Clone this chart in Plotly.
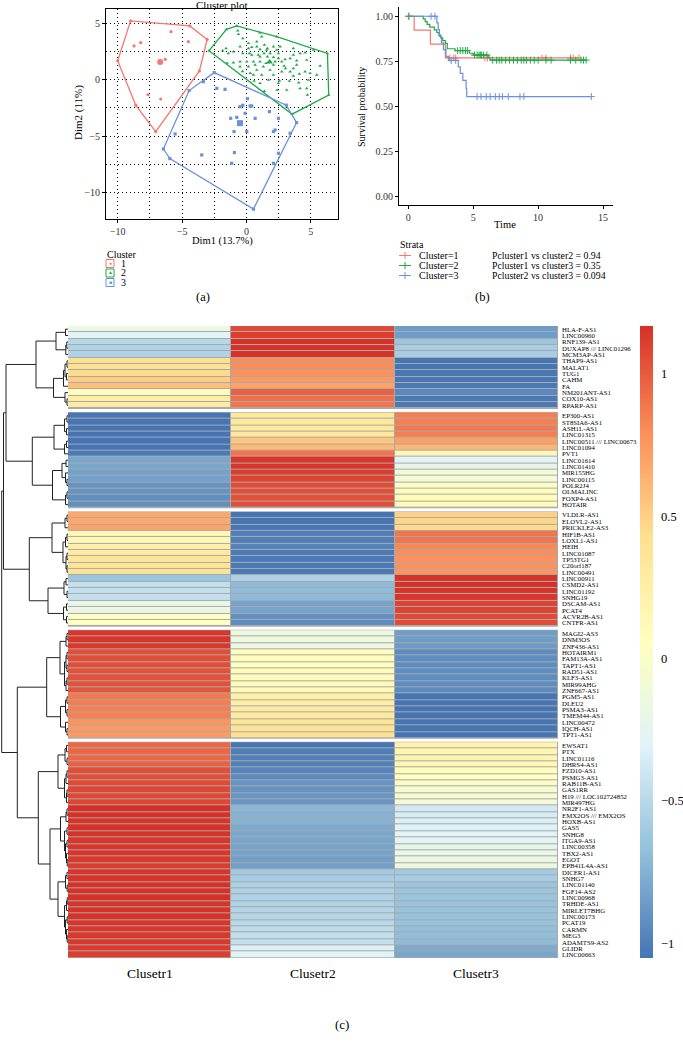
import numpy as np
import plotly.graph_objects as go

W, H = 683, 1045
FONT = "Liberation Serif"

# ---------------- (a) Cluster plot data ----------------
CL_COLORS = ["#F8766D", "#1DAA45", "#6A92DA"]
c1_x = [-9.0, -4.4, -3.05, -3.65, -7.05, -8.6, -10.0, -5.86, -8.73, -8.21, -4.51, -6.3, -7.65, -6.66]
c1_y = [5.25, 4.8, 3.6, 0.8, -4.6, -2.25, 1.7, 4.29, 3.02, 3.31, 3.4, 1.83, -1.32, -1.7]
c2_x = [-2.9, -1.55, -0.75, 1.05, 6.3, 6.4, 3.55,
        -0.67, -0.62, -0.28, -1.58, -1.84, -1.01, -1.4, -0.49, 0.16, 0.24, 0.42, 0.81, 1.06, 1.4,
        1.58, 2.1, 2.36, 2.62, 1.84, 2.49, 1.37, 0.93, 1.63, 2.1, 2.49, 3.01, 2.75, 2.23, 1.84,
        1.06, 0.55, 0.03, -0.49, -1.01, -0.49, 0.16, 0.68, 1.32, 2.1, 2.93, 3.03, 3.65, 3.91,
        4.69, 5.73, 4.56, 4.95, 4.12, 3.4, 2.75, 2.1, 1.19, 0.55, -0.3, 0.3, 2.57, 3.34, 4.07,
        4.69, 4.74, 3.14, 2.39, 1.19, 2.36, 3.65, 4.17, 0.81, 0.16, 3.65, 5.21, 4.56, 4.82,
        1.71, 1.06, 0.6, 0.81, 5.47, 1.4, 3.4, 3.91, 0.42, 1.84, 1.53, 3.65, 2.49, 4.17, 1.63,
        -0.28, 1.06, -1.5]
c2_y = [2.6, 4.5, 4.8, 4.2, 2.35, -1.35, -3.05,
        4.38, 4.06, 3.7, 2.81, 2.6, 2.51, 2.36, 2.96, 2.81, 2.36, 2.9, 2.96, 2.72, 3.11,
        2.66, 2.96, 2.66, 2.96, 2.36, 2.36, 2.36, 2.22, 2.07, 2.01, 1.92, 1.83, 1.62, 1.62, 1.62,
        1.62, 1.62, 1.62, 1.62, 1.53, 1.18, 1.18, 1.33, 1.18, 1.33, 1.24, 1.03, 1.03, 1.33,
        1.77, 1.24, 0.73, 0.59, 0.53, 0.73, 0.73, 0.44, 0.44, 0.44, 0.75, 0.6, -0.07, -0.1, -0.24,
        -0.75, -1.34, -0.9, -0.9, 3.85, 3.85, 2.81, 2.36, 3.4, 3.26, 2.22, 2.66, 2.42, -0.01,
        -0.01, -0.3, -0.1, 0.88, 0.44, -1.0, 1.92, 1.71, 2.22, 0.88, 1.48, 0.35, -0.3, -0.75, 2.81,
        2.36, 2.07, 1.5]
c3_x = [-2.5, -4.45, -6.45, -5.95, 0.55, 3.9, 3.1,
        -2.3, -1.66, -3.34, 0.08, -0.49, -0.28, 0.42, -1.22, -0.75, 0.68, 1.79, 2.49, 2.23,
        2.1, 0.03, -0.96, -3.47, -5.54, -0.93, -1.14, 2.1, 2.49, 3.4, 0.29, -0.1]
c3_y = [0.65, -0.95, -6.15, -7.0, -11.5, -3.8, -2.25,
        -0.75, -0.84, -0.16, -1.67, -2.38, -2.26, -2.32, -3.42, -3.33, -3.42, -2.82, -3.42, -4.46,
        -4.6, -4.6, -4.6, -6.68, -4.81, -6.47, -7.42, -7.42, -6.53, -4.75, -2.32, -2.97]
centers_x = [-6.7, 1.8, -0.5]
centers_y = [1.6, 1.6, -3.85]
cluster_names = ["1", "2", "3"]

# ---------------- (b) Survival data ----------------
SV_COLORS = ["#F8766D", "#1DAA45", "#6A92DA"]
red_t = [0, 0.45, 1.7, 2.85, 13.15]
red_s = [1, 0.923, 0.846, 0.769, 0.769]
red_c = [0.0, 3.2, 3.5, 3.65, 5.9, 6.1, 10.3, 10.6, 12.5, 12.7, 13.15]
green_t = [0, 1.15, 1.3, 1.45, 1.65, 2.0, 2.2, 2.35, 2.5, 2.65, 2.85, 3.0, 3.6, 4.7, 5.0, 6.2, 6.3, 13.7]
green_s = [1, 0.985, 0.97, 0.955, 0.94, 0.925, 0.91, 0.895, 0.88, 0.865, 0.85, 0.82, 0.81, 0.795,
           0.785, 0.77, 0.757, 0.757]
green_c = [0.05, 3.8, 4.0, 4.2, 4.4, 4.55, 5.1, 5.3, 5.45, 5.55, 5.65, 5.8, 6.05, 6.5, 6.8, 7.0,
           7.2, 7.5, 7.8, 8.1, 8.4, 8.7, 8.9, 9.1, 9.4, 9.7, 10.0, 10.6, 11.0, 12.5, 12.9, 13.3,
           13.5, 13.7]
blue_t = [0, 2.2, 2.3, 2.4, 2.55, 2.7, 2.9, 3.1, 3.85, 4.0, 4.2, 4.45, 4.5, 14.1]
blue_s = [1, 0.963, 0.926, 0.889, 0.852, 0.815, 0.778, 0.755, 0.72, 0.684, 0.645, 0.6, 0.555, 0.555]
blue_c = [1.75, 2.05, 3.3, 3.65, 5.3, 5.6, 6.0, 6.3, 6.7, 7.0, 7.25, 7.7, 8.6, 8.9, 14.1]
strata = ["Cluster=1", "Cluster=2", "Cluster=3"]
pvals = ["Pcluster1 vs cluster2 = 0.94", "Pcluster1 vs cluster3 = 0.35", "Pcluster2 vs cluster3 = 0.094"]

# ---------------- (c) Heatmap data ----------------
genes = [
    "HLA-F-AS1", "LINC00960", "RNF139-AS1", "DUXAP8 /// LINC01296", "MCM3AP-AS1", "THAP9-AS1",
    "MALAT1", "TUG1", "CAHM", "FA", "NM201ANT-AS1", "COX10-AS1", "RPARP-AS1",
    "EP300-AS1", "ST8SIA6-AS1", "ASH1L-AS1", "LINC01315", "LINC00511 /// LINC00673", "LINC01094",
    "PVT1", "LINC01614", "LINC01410", "MIR155HG", "LINC00115", "POLR2J4", "OLMALINC", "FOXP4-AS1",
    "HOTAIR",
    "VLDLR-AS1", "ELOVL2-AS1", "PRICKLE2-AS3", "HIF1B-AS1", "LOXL1-AS1", "HEIH", "LINC01087",
    "TP53TG1", "C20orf187", "LINC00491", "LINC00911", "CSMD2-AS1", "LINC01192", "SNHG19",
    "DSCAM-AS1", "PCAT4", "ACVR2B-AS1", "CNTFR-AS1",
    "MAGI2-AS3", "DNM3OS", "ZNF436-AS1", "HOTAIRM1", "FAM13A-AS1", "TAPT1-AS1", "RAD51-AS1",
    "KLF3-AS1", "MIR99AHG", "ZNF667-AS1", "PGM5-AS1", "DLEU2", "PSMA3-AS1", "TMEM44-AS1",
    "LINC00472", "IQCH-AS1", "TPT1-AS1",
    "EWSAT1", "PTX", "LINC01116", "DHRS4-AS1", "FZD10-AS1", "PSMG3-AS1", "RAB11B-AS1", "GAS1RR",
    "H19 /// LOC102724852", "MIR497HG", "NR2F1-AS1", "EMX2OS /// EMX2OS", "HOXB-AS1", "GAS5",
    "SNHG8", "ITGA9-AS1", "LINC00358", "TBX2-AS1", "EGOT", "EPB41L4A-AS1", "DICER1-AS1", "SNHG7",
    "LINC01140", "FGF14-AS2", "LINC00968", "TRHDE-AS1", "MIRLET7BHG", "LINC00173", "PCAT19",
    "CARMN", "MEG3", "ADAMTS9-AS2", "GLIDR", "LINC00663"]
group_sizes = [13, 15, 18, 17, 34]
col_names = ["Clusetr1", "Clusetr2", "Clusetr3"]
clus1 = [-0.17, -0.29, -0.5, -0.54, -0.54, 0.42, 0.42, 0.45, 0.52, 0.58, 0.1, 0.26, 0.3,
         -1.05, -1.05, -1.05, -1.05, -1.05, -1.05, -1.02, -0.8, -0.8, -0.83, -0.83, -0.9, -0.9, -0.92,
         -0.92,
         0.68, 0.68, 0.7, 0.14, 0.16, 0.25, 0.3, 0.36, 0.38, 0.4, -0.64, -0.45, -0.45, -0.45, -0.2,
         -0.18, 0.03, 0.05,
         1.15, 1.15, 1.14, 1.05, 1.05, 1.05, 1.04, 1.04, 1.04, 1.03, 0.88, 0.87, 0.86, 0.85, 0.77,
         0.75, 0.74,
         0.95, 0.95, 0.95, 0.98, 1.05, 1.05, 1.07, 1.08, 1.08, 1.08, 1.17, 1.17, 1.16, 1.17, 1.16,
         1.15, 1.15, 1.15, 1.14, 1.12, 1.15, 1.16, 1.17, 1.17, 1.17, 1.16, 1.16, 1.16, 1.15, 1.15,
         1.14, 1.14, 1.13, 1.12]
clus2 = [1.07, 1.12, 1.17, 1.17, 1.16, 0.8, 0.8, 0.78, 0.74, 0.7, 0.98, 0.92, 0.9,
         0.33, 0.33, 0.34, 0.35, 0.55, 0.6, 0.9, 1.15, 1.15, 1.12, 1.1, 1.06, 1.05, 1.04, 1.05,
         -1.05, -1.05, -1.04, -1.0, -1.0, -0.98, -1.02, -1.02, -1.03, -1.03, -0.55, -0.7, -0.7, -0.7,
         -0.82, -0.82, -0.92, -0.94,
         -0.15, -0.15, -0.18, 0.08, 0.08, 0.08, 0.1, 0.1, 0.12, 0.12, 0.25, 0.27, 0.3, 0.32, 0.38,
         0.4, 0.43,
         -1.05, -1.0, -0.99, -0.99, -0.97, -0.95, -0.9, -0.9, -0.88, -0.88, -0.72, -0.74, -0.74,
         -0.78, -0.8, -0.8, -0.82, -0.82, -0.84, -0.84, -0.6, -0.58, -0.55, -0.55, -0.54, -0.54,
         -0.52, -0.52, -0.5, -0.48, -0.46, -0.45, -0.33, -0.3]
clus3 = [-0.85, -0.85, -0.64, -0.58, -0.58, -1.05, -1.05, -1.04, -1.04, -1.03, -0.95, -1.02, -1.02,
         0.86, 0.86, 0.88, 0.86, 0.72, 0.62, 0.15, -0.3, -0.22, -0.1, -0.08, 0.03, 0.08, 0.1, 0.1,
         0.5, 0.48, 0.45, 0.9, 0.9, 0.82, 0.8, 0.78, 0.78, 0.76, 1.16, 1.17, 1.16, 1.15, 1.1, 1.1,
         1.07, 1.06,
         -0.85, -0.85, -0.86, -0.93, -0.93, -0.93, -0.93, -0.93, -0.93, -0.94, -1.05, -1.05, -1.05,
         -1.05, -1.05, -1.05, -1.05,
         0.2, 0.18, 0.18, 0.16, 0.08, 0.06, 0.0, -0.03, -0.06, -0.08, -0.38, -0.36, -0.34, -0.32,
         -0.3, -0.28, -0.22, -0.2, -0.18, -0.16, -0.6, -0.58, -0.64, -0.64, -0.64, -0.65, -0.65,
         -0.66, -0.66, -0.68, -0.68, -0.7, -0.78, -0.8]
Z_MIN, Z_MAX = -1.05, 1.17
cbar_ticks = [-1, -0.5, 0, 0.5, 1]
cbar_labels = ["\u22121", "\u22120.5", "0", "0.5", "1"]

# row dendrogram: [left, right, height]; leaves are row indices
G1 = [[[0, 1, 2.5], [[2, 3, 1.2], 4, 2.2], 12],
      [[[[5, 6, 1], [7, 8, 1.5], 3], 9, 4.5], [10, [11, 12, 1], 3], 14.5], 32]
G2 = [[[[13, 14, 1], [15, 16, 1.5], 3.5], [[17, 18, 1.5], 19, 3.5], 14],
      [[[20, 21, 2], [22, [23, 24, 1], 2.5], 6], [[25, 26, 1], 27, 2.5], 15.5], 35.7]
G3 = [[[[28, 29, 1], 30, 3], [[[31, 32, 1], 33, 2.5], [[34, 35, 1], [36, 37, 1], 2], 5], 16],
      [[[38, 39, 2], [40, 41, 1], 4], [[42, 43, 1.5], [44, 45, 1.5], 4.5], 20], 38.7]
G4 = [[[[46, 47, 1], 48, 2], [[[49, 50, 1], [51, 52, 1], 2], [[53, 54, 1], 55, 2], 3.5], 8],
      [[[56, 57, 1], [58, 59, 1], 2.5], [60, [61, 62, 1], 2.5], 7.5], 21.3]
G5 = [[[[63, 64, 1.5], [65, 66, 1], 3], [[[67, 68, 1], 69, 2], [[70, 71, 1], 72, 1.5], 3.5], 10],
      [[[[73, 74, 1], 75, 2], [[76, 77, 1], [[78, 79, 1], [80, [81, 82, 0.8], 1.5], 2.5], 3.5], 7.5],
       [[[83, 84, 1], [85, 86, 0.8], 2.5],
        [[[87, 88, 0.8], 89, 1.5], [[90, 91, 0.8], [92, [93, 94, 0.8], 1.5], 2.5], 3.5], 10], 18],
      29.7]
DENDRO = [[[G1, G2, 62], G3, 64.5], [G4, G5, 50.7], 66.3]


def X(px):
    return px / W


def Y(py):
    return 1 - py / H


def hull(xs, ys):
    pts = sorted(set(zip(xs, ys)))

    def cross(o, a, b):
        return (a[0] - o[0]) * (b[1] - o[1]) - (a[1] - o[1]) * (b[0] - o[0])
    lower, upper = [], []
    for p in pts:
        while len(lower) >= 2 and cross(lower[-2], lower[-1], p) <= 0:
            lower.pop()
        lower.append(p)
    for p in reversed(pts):
        while len(upper) >= 2 and cross(upper[-2], upper[-1], p) <= 0:
            upper.pop()
        upper.append(p)
    h = lower[:-1] + upper[:-1]
    h.append(h[0])
    return [p[0] for p in h], [p[1] for p in h]


fig = go.Figure()

# ---------- (a) ----------
syms = ["circle", "triangle-up", "square"]
for k, (xs, ys) in enumerate([(c1_x, c1_y), (c2_x, c2_y), (c3_x, c3_y)]):
    hx, hy = hull(xs, ys)
    fig.add_trace(go.Scatter(x=hx, y=hy, mode="lines", line=dict(color=CL_COLORS[k], width=1.3),
                             xaxis="x", yaxis="y", showlegend=False, hoverinfo="skip"))
    fig.add_trace(go.Scatter(x=xs, y=ys, mode="markers",
                             marker=dict(symbol=syms[k], size=3.2, color=CL_COLORS[k]),
                             xaxis="x", yaxis="y", showlegend=False))
    fig.add_trace(go.Scatter(x=[centers_x[k]], y=[centers_y[k]], mode="markers",
                             marker=dict(symbol=syms[k], size=6, color=CL_COLORS[k]),
                             xaxis="x", yaxis="y", showlegend=False))

# ---------- (b) ----------
for k, (t, s, c) in enumerate([(red_t, red_s, red_c), (green_t, green_s, green_c),
                               (blue_t, blue_s, blue_c)]):
    fig.add_trace(go.Scatter(x=t, y=s, mode="lines", line=dict(color=SV_COLORS[k], width=1.2, shape="hv"),
                             xaxis="x2", yaxis="y2", showlegend=False))
    ta = np.array(t)
    cy = [s[int(np.searchsorted(ta, v, side="right")) - 1] for v in c]
    fig.add_trace(go.Scatter(x=c, y=cy, mode="markers",
                             marker=dict(symbol="cross-thin", size=5, line=dict(color=SV_COLORS[k], width=1)),
                             xaxis="x2", yaxis="y2", showlegend=False))

# ---------- (c) heatmap ----------
HM_TOP, HM_BOT = 326, 958
GAP = 0.65
pos = []
for g, n in enumerate(group_sizes):
    start = len(pos)
    for i in range(n):
        pos.append(start + i + g * GAP)
colorscale = [[0, "#4575B4"], [1 / 6, "#91BFDB"], [2 / 6, "#E0F3F8"], [3 / 6, "#FFFFBF"],
              [4 / 6, "#FEE090"], [5 / 6, "#FC8D59"], [1, "#D73027"]]
shapes = []
start = 0
for g, n in enumerate(group_sizes):
    idx = list(range(start, start + n))
    z = [[clus1[i], clus2[i], clus3[i]] for i in idx]
    fig.add_trace(go.Heatmap(
        z=z, x=[0, 1, 2], y=[pos[i] for i in idx], zmin=Z_MIN, zmax=Z_MAX, colorscale=colorscale,
        xgap=1, ygap=1, xaxis="x3", yaxis="y3", showscale=(g == 0),
        colorbar=dict(x=X(640), xanchor="left", y=Y((HM_TOP + HM_BOT) / 2), yanchor="middle",
                      len=(HM_BOT - HM_TOP) / H, lenmode="fraction", thickness=13,
                      thicknessmode="pixels", outlinewidth=0, ypad=0, xpad=0, ticks="",
                      showticklabels=False)))
    shapes.append(dict(type="rect", xref="x3", yref="y3", x0=-0.5, x1=2.5,
                       y0=pos[idx[0]] - 0.5, y1=pos[idx[-1]] + 0.5, fillcolor="#A9A9A9",
                       line=dict(color="#A9A9A9", width=1), layer="below"))
    start += n

# dendrogram
dx, dy = [], []


def walk(node):
    if isinstance(node, int):
        return pos[node], 0.0
    l, r, h = node
    yl, hl = walk(l)
    yr, hr = walk(r)
    dx.extend([hl, h, h, hr, None])
    dy.extend([yl, yl, yr, yr, None])
    return (yl + yr) / 2, h


walk(DENDRO)
fig.add_trace(go.Scatter(x=dx, y=dy, mode="lines", line=dict(color="#222222", width=1),
                         xaxis="x4", yaxis="y4", showlegend=False, hoverinfo="skip"))

yr_heat = [pos[-1] + 0.5, -0.5]
tickfont = dict(family=FONT, size=10, color="#333333")
grid_kw = dict(showgrid=True, gridcolor="black", griddash="1px,3px", gridwidth=1)

fig.update_layout(
    width=W, height=H, margin=dict(l=0, r=0, t=0, b=0), autosize=False,
    paper_bgcolor="white", plot_bgcolor="white", showlegend=False,
    font=dict(family=FONT, color="black"),
    xaxis=dict(domain=[X(106), X(338)], range=[-10.91, 7.12], anchor="y", tickvals=[-10, -5, 0, 5],
               showline=True, mirror=True, linecolor="black", linewidth=1, ticks="outside", ticklen=3,
               tickcolor="black", zeroline=False, tickfont=tickfont, **grid_kw,
               minor=dict(dtick=2.5, tick0=0, ticks="", **grid_kw)),
    yaxis=dict(domain=[Y(219), Y(9)], range=[-12.38, 6.31], anchor="x", tickvals=[-10, -5, 0, 5],
               showline=True, mirror=True, linecolor="black", linewidth=1, ticks="outside", ticklen=3,
               tickcolor="black", zeroline=False, tickfont=tickfont, **grid_kw,
               minor=dict(dtick=2.5, tick0=0, ticks="", **grid_kw)),
    xaxis2=dict(domain=[X(399), X(613)], range=[-0.72, 15.77], anchor="y2", tickvals=[0, 5, 10, 15],
                showline=True, linecolor="black", linewidth=1, ticks="outside", ticklen=3,
                tickcolor="black", showgrid=False, zeroline=False, tickfont=tickfont),
    yaxis2=dict(domain=[Y(205), Y(6.7)], range=[-0.046, 1.053], anchor="x2",
                tickvals=[0, 0.25, 0.5, 0.75, 1], tickformat=".2f",
                showline=True, linecolor="black", linewidth=1, ticks="outside", ticklen=3,
                tickcolor="black", showgrid=False, zeroline=False, tickfont=tickfont),
    xaxis3=dict(domain=[X(68), X(558)], range=[-0.5, 2.5], anchor="y3", showticklabels=False,
                showgrid=False, zeroline=False, showline=False, ticks=""),
    yaxis3=dict(domain=[Y(HM_BOT), Y(HM_TOP)], range=yr_heat, anchor="x3", side="right",
                tickvals=pos, ticktext=genes, ticks="", showgrid=False, zeroline=False,
                showline=False, ticklabelstandoff=3,
                tickfont=dict(family=FONT, size=6.8, color="black")),
    xaxis4=dict(domain=[0, X(68)], range=[68, 0], anchor="y4", visible=False),
    yaxis4=dict(domain=[Y(HM_BOT), Y(HM_TOP)], range=yr_heat, anchor="x4", visible=False),
)


def ann(text, x, y, size=10, xanchor="center", angle=0, color="black", xref="paper"):
    return dict(text=text, x=x if xref != "paper" else X(x), y=Y(y), xref=xref, yref="paper",
                showarrow=False, xanchor=xanchor, yanchor="middle", textangle=angle,
                font=dict(family=FONT, size=size, color=color))


anns = [
    ann("Cluster plot", 222, 5, 11),
    ann("Dim1 (13.7%)", 222, 241, 10.5),
    ann("Dim2 (11%)", 78, 113, 11, angle=-90),
    ann("Cluster", 105, 254, 10, xanchor="left"),
    ann("(a)", 203, 297, 12.5),
    ann("Time", 505, 224, 10.5),
    ann("Survival probability", 361, 107, 10, angle=-90),
    ann("Strata", 398, 244, 10, xanchor="left"),
    ann("(b)", 482, 297, 12.5),
    ann("(c)", 342, 1024, 13),
]
# colour-bar labels placed along the colour scale
for v, lab in zip(cbar_ticks, cbar_labels):
    ypx = HM_TOP + (Z_MAX - v) / (Z_MAX - Z_MIN) * (HM_BOT - HM_TOP)
    anns.append(ann(lab, 659, ypx, 12.5, xanchor="left"))

legend_y_a = [263.5, 273, 282.5]
legend_glyph = ["\u25CF", "\u25B2", "\u25A0"]
for k in range(3):
    yy = legend_y_a[k]
    shapes.append(dict(type="rect", xref="paper", yref="paper", x0=X(106), x1=X(114),
                       y0=Y(yy + 4), y1=Y(yy - 4), fillcolor="rgba(255,255,255,1)",
                       line=dict(color=CL_COLORS[k], width=1)))
    anns.append(ann(legend_glyph[k], 110, yy, 5, color=CL_COLORS[k]))
    anns.append(ann(cluster_names[k], 118.5, yy, 10, xanchor="left"))

legend_y_b = [255.5, 265.5, 275.5]
for k in range(3):
    yy = legend_y_b[k]
    shapes.append(dict(type="line", xref="paper", yref="paper", x0=X(399), x1=X(411), y0=Y(yy), y1=Y(yy),
                       line=dict(color=SV_COLORS[k], width=1)))
    shapes.append(dict(type="line", xref="paper", yref="paper", x0=X(405), x1=X(405), y0=Y(yy - 3.5),
                       y1=Y(yy + 3.5), line=dict(color=SV_COLORS[k], width=1)))
    anns.append(ann(strata[k], 417, yy, 10, xanchor="left"))
    anns.append(ann(pvals[k], 490, yy, 9.8, xanchor="left"))

for j, nm in enumerate(col_names):
    anns.append(ann(nm, j, 973, 13.5, xref="x3"))

fig.update_layout(annotations=anns, shapes=shapes)
fig.write_html("out.html", config={"displayModeBar": False},
               post_script="document.body.style.margin='0px';"
                           "document.documentElement.style.overflow='hidden';")
